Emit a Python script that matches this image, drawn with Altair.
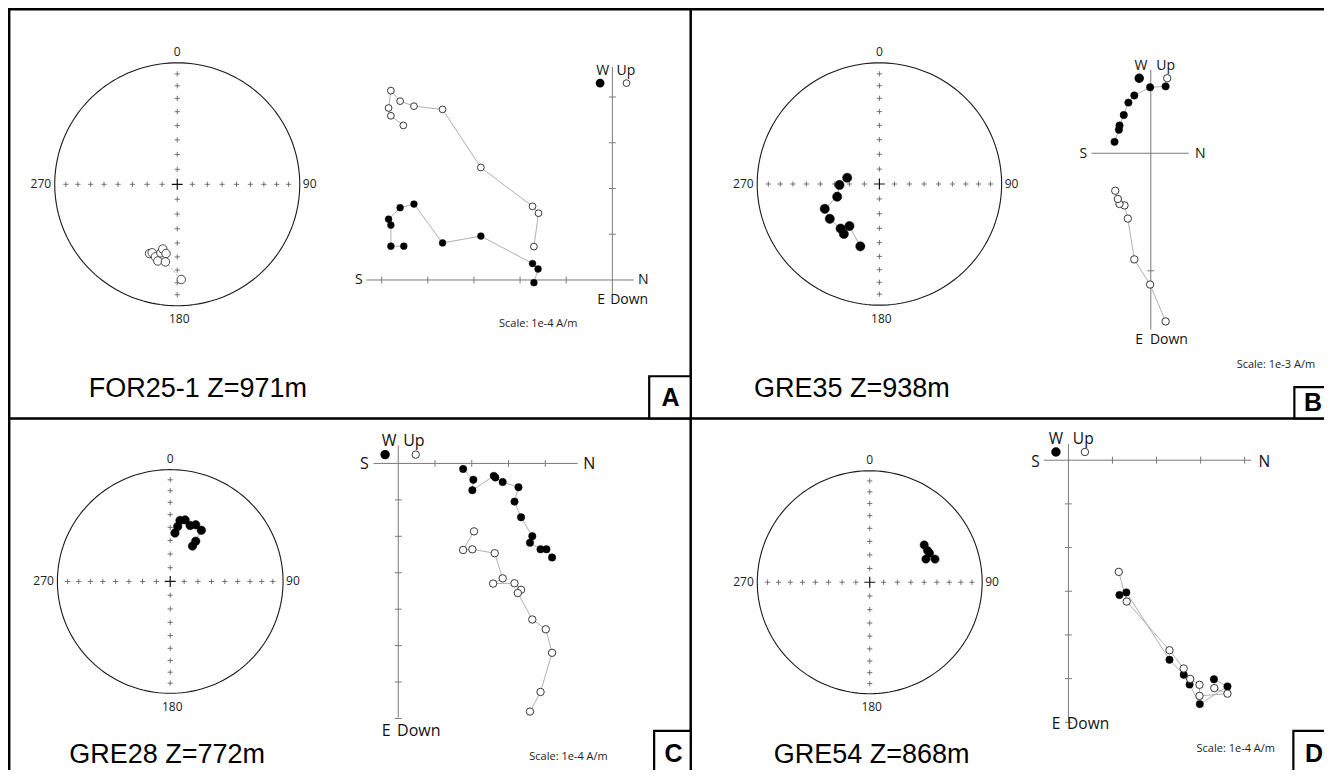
import altair as alt
import pandas as pd

# ---------------- values ----------------
SAMPLE_LABELS = ["FOR25-1 Z=971m", "GRE35 Z=938m", "GRE28 Z=772m", "GRE54 Z=868m"]
PANEL_LETTERS = ["A", "B", "C", "D"]
SCALE_LABELS = ["Scale: 1e-4 A/m", "Scale: 1e-3 A/m", "Scale: 1e-4 A/m", "Scale: 1e-4 A/m"]
DIR_LABELS = ["0", "90", "180", "270"]
AXIS_LABELS = ["S", "N", "W", "Up", "E", "Down"]

# stereonet directions: declination / inclination (deg); negative inc = upper hemisphere (open)
ST_A_DEC = [201.6, 199.9, 196.6, 194.1, 193.3, 192.5, 189.1, 188.6, 177.6]
ST_A_INC = [-38.6, -39.8, -37.7, -35.2, -41.6, -44.6, -41.8, -35.6, -22.6]
ST_B_DEC = [281.1, 268.6, 253.1, 245.4, 234.7, 220.8, 215.2, 215.2, 196.9]
ST_B_INC = [68.1, 63.3, 60.4, 49.3, 48.8, 49.8, 48.2, 55.0, 45.3]
ST_C_DEC = [5.5, 7.7, 9.0, 13.5, 19.4, 24.0, 31.1, 32.1, 31.9]
ST_C_INC = [54.2, 49.0, 44.0, 42.8, 45.9, 43.8, 45.6, 55.0, 59.4]
ST_D_DEC = [55.4, 61.1, 63.9, 67.4, 70.3]
ST_D_INC = [40.8, 40.9, 40.5, 45.0, 38.3]

# Zijderveld diagrams, in units of the axis tick spacing
# horizontal projection (filled): N vs W ; vertical projection (open): N vs Up
ZA_H_N = [-4.52, -4.80, -4.80, -4.85, -4.60, -4.30, -3.68, -2.85, -1.73, -1.61, -1.70]
ZA_H_W = [0.74, 0.74, 1.20, 1.33, 1.58, 1.66, 0.81, 0.96, 0.36, 0.24, -0.06]
ZA_V_N = [-4.53, -4.80, -4.85, -4.80, -4.60, -4.30, -3.68, -2.85, -1.73, -1.60, -1.70]
ZA_V_U = [3.38, 3.59, 3.76, 4.14, 3.91, 3.80, 3.73, 2.46, 1.61, 1.46, 0.73]

ZB_H_N = [0.125, -0.006, -0.139, -0.189, -0.228, -0.264, -0.269, -0.306]
ZB_H_W = [0.569, 0.561, 0.492, 0.431, 0.325, 0.236, 0.200, 0.097]
ZB_V_N = [0.125, -0.006, -0.139, -0.194, -0.222, -0.264, -0.278, -0.300]
ZB_V_U = [-1.431, -1.117, -0.903, -0.556, -0.444, -0.431, -0.389, -0.319]

ZC_H_N = [1.765, 2.043, 2.016, 2.599, 2.643, 2.841, 3.271, 3.163, 3.342, 3.647, 3.584, 3.871, 4.032, 4.185]
ZC_H_W = [-0.152, -0.448, -0.735, -0.341, -0.385, -0.511, -0.654, -1.048, -1.478, -1.998, -2.177, -2.357, -2.357, -2.581]
ZC_V_N = [2.061, 1.765, 2.016, 2.625, 2.841, 2.581, 3.163, 3.342, 3.253, 3.647, 4.014, 4.185, 3.871, 3.584]
ZC_V_U = [-1.864, -2.375, -2.357, -2.464, -3.154, -3.297, -3.289, -3.468, -3.557, -4.283, -4.552, -5.197, -6.272, -6.810]

ZD_H_N = [1.158, 1.315, 2.294, 2.616, 2.750, 2.982, 3.610, 3.303]
ZD_H_W = [-3.087, -3.027, -4.567, -4.910, -5.135, -5.583, -5.179, -5.015]
ZD_V_N = [1.143, 1.323, 2.294, 2.616, 2.765, 2.975, 2.975, 3.610, 3.311]
ZD_V_U = [-2.556, -3.236, -4.350, -4.768, -5.007, -5.142, -5.396, -5.344, -5.217]

STEREO = {"A": (ST_A_DEC, ST_A_INC), "B": (ST_B_DEC, ST_B_INC),
          "C": (ST_C_DEC, ST_C_INC), "D": (ST_D_DEC, ST_D_INC)}
ZIJ = {"A": (ZA_H_N, ZA_H_W, ZA_V_N, ZA_V_U), "B": (ZB_H_N, ZB_H_W, ZB_V_N, ZB_V_U),
       "C": (ZC_H_N, ZC_H_W, ZC_V_N, ZC_V_U), "D": (ZD_H_N, ZD_H_W, ZD_V_N, ZD_V_U)}

# ---------------- layout (figure pixel units) ----------------
LAYOUT = {
    "A": dict(cx=171.3, cy=180.0, R=124.0, ox=611.7, oy=277.7, u=46.7,
              hx=(-5.33, 0.46), vy=(-0.33, 4.66), ht=[-1, -2, -3, -4, -5], vt=[1, 2, 3, 4],
              lab=[(355, 278), (643, 278), (602, 64), (625.5, 64), (600.3, 298), (628.7, 298)],
              leg=[(599.3, 76.7), (626.0, 76.7)], scale=(536.7, 322.7), name=(81.7, 397),
              box=(649, 376, 691, 419), letter=(670.5, 398.5), zs=46, ss=72, fs=14),
    "B": dict(cx=882.0, cy=179.7, R=123.7, ox=1156.7, oy=148.3, u=120.0,
              hx=(-0.5, 0.32), vy=(-1.5, 0.71), ht=[], vt=[-1],
              lab=[(1088.3, 149.3), (1206.7, 149.3), (1146.7, 59.3), (1171.7, 59.3), (1145, 339.3), (1175, 339.3)],
              leg=[(1145.0, 71.7), (1173.3, 71.7)], scale=(1283.3, 364.5), name=(755, 397),
              box=(1302, 387, 1350, 419), letter=(1321, 403), zs=55, ss=85, fs=14),
    "C": dict(cx=164.2, cy=585.5, R=114.2, ox=395.0, oy=465.0, u=37.2,
              hx=(-0.67, 4.88), vy=(-6.97, 0.49), ht=[1, 2, 3, 4], vt=[-1, -2, -3, -4, -5, -6, -7],
              lab=[(360.7, 466), (588.3, 466), (385.7, 442.3), (410.8, 442.3), (382.8, 738.3), (415.8, 738.3)],
              leg=[(381.7, 456.0), (412.7, 456.0)], scale=(567.3, 765), name=(62, 771),
              box=(654, 738, 691, 790), letter=(673.5, 762), zs=55, ss=72, fs=16),
    "D": dict(cx=872.2, cy=586.3, R=113.8, ox=1073.3, oy=461.7, u=44.6,
              hx=(-0.56, 4.15), vy=(-5.98, 0.37), ht=[1, 2, 3, 4], vt=[-1, -2, -3, -4, -5, -6],
              lab=[(1040, 464), (1271.7, 464), (1060.7, 440), (1088.3, 440), (1060.7, 730.7), (1093.3, 730.7)],
              leg=[(1060.7, 453.3), (1090.0, 453.3)], scale=(1242.7, 756.7), name=(775, 771),
              box=(1301, 738, 1350, 790), letter=(1322, 762), zs=55, ss=68, fs=15.5),
}
PANELS = ["A", "B", "C", "D"]
EQ_TICKS = [10, 20, 30, 40, 50, 60, 70, 80]

XS = alt.Scale(domain=[0, 1332], nice=False, zero=False)
YS = alt.Scale(domain=[778, 0], nice=False, zero=False)


def enc(**kw):
    d = dict(x=alt.X("fx:Q", scale=XS, axis=None), y=alt.Y("fy:Q", scale=YS, axis=None))
    d.update(kw)
    return d


def stereo_calc(ch, L):
    r = "sqrt(2)*sin((90-abs(datum.inc))*PI/360)"
    return ch.transform_calculate(
        fx=f"{L['cx']} + {L['R']}*{r}*sin(datum.dec*PI/180)",
        fy=f"{L['cy']} - {L['R']}*{r}*cos(datum.dec*PI/180)",
    )


def zij_calc(ch, L):
    return ch.transform_calculate(
        fx=f"{L['ox']} + datum.N*{L['u']}",
        fy=f"{L['oy']} - datum.V*{L['u']}",
    )


layers = []
CROSS = "M-1,0L1,0M0,-1L0,1"

# --------- frame ---------
frame = pd.DataFrame([
    dict(fx=0, fy=1.2, fx2=1332, fy2=1.2),
    dict(fx=1.2, fy=0, fx2=1.2, fy2=778),
    dict(fx=0, fy=419, fx2=1332, fy2=419),
    dict(fx=691, fy=0, fx2=691, fy2=778),
])
layers.append(alt.Chart(frame).mark_rule(color="black", strokeWidth=2.5)
              .encode(**enc(x2=alt.X2("fx2"), y2=alt.Y2("fy2"))))

for k, p in enumerate(PANELS):
    L = LAYOUT[p]
    # ---- stereonet circle ----
    circ = pd.DataFrame({"dec": list(range(0, 361, 2))})
    circ["inc"] = 0
    layers.append(stereo_calc(alt.Chart(circ), L).mark_line(color="#1a1a1a", strokeWidth=1.1)
                  .encode(**enc(order=alt.Order("dec:Q"))))
    # graticule crosses
    rows = [dict(dec=d, inc=i) for d in (0, 90, 180, 270) for i in EQ_TICKS]
    layers.append(stereo_calc(alt.Chart(pd.DataFrame(rows)), L)
                  .mark_point(shape=CROSS, filled=False, stroke="#5f5f5f", strokeWidth=0.85, size=28, opacity=1)
                  .encode(**enc()))
    layers.append(stereo_calc(alt.Chart(pd.DataFrame([dict(dec=0, inc=90)])), L)
                  .mark_point(shape=CROSS, filled=False, stroke="#111", strokeWidth=1.2, size=120, opacity=1)
                  .encode(**enc()))
    # direction labels
    cx, cy, R = L["cx"], L["cy"], L["R"]
    dl = pd.DataFrame({"text": DIR_LABELS,
                       "fx": [cx, cx + R + 10, cx + 2, cx - R - 14],
                       "fy": [cy - R - 11, cy, cy + R + 14, cy]})
    layers.append(alt.Chart(dl).mark_text(font="Open Sans", fontSize=12, color="#222",
                                          align="center", baseline="middle")
                  .encode(**enc(text="text:N")))
    # stereonet data
    dec, inc = STEREO[p]
    sd = pd.DataFrame({"dec": dec, "inc": inc, "i": range(len(dec))})
    upper = p == "A"
    line = stereo_calc(alt.Chart(sd), L).mark_line(
        color="#8a8a8a", strokeWidth=0.8, strokeDash=[2, 2] if upper else [1, 0])
    layers.append(line.encode(**enc(order=alt.Order("i:Q"))))
    if upper:
        layers.append(stereo_calc(alt.Chart(sd), L)
                      .mark_point(shape="circle", filled=True, fill="white", stroke="#333",
                                  strokeWidth=0.9, size=L["ss"], opacity=1)
                      .encode(**enc()))
    else:
        layers.append(stereo_calc(alt.Chart(sd), L)
                      .mark_point(shape="circle", filled=True, fill="black", stroke="black",
                                  strokeWidth=0.5, size=L["ss"], opacity=1)
                      .encode(**enc()))

    # ---- Zijderveld axes ----
    ox, oy, u = L["ox"], L["oy"], L["u"]
    ax = [dict(fx=ox + L["hx"][0] * u, fy=oy, fx2=ox + L["hx"][1] * u, fy2=oy),
          dict(fx=ox, fy=oy - L["vy"][0] * u, fx2=ox, fy2=oy - L["vy"][1] * u)]
    for t in L["ht"]:
        ax.append(dict(fx=ox + t * u, fy=oy - 3.5, fx2=ox + t * u, fy2=oy + 3.5))
    for t in L["vt"]:
        ax.append(dict(fx=ox - 3.5, fy=oy - t * u, fx2=ox + 3.5, fy2=oy - t * u))
    layers.append(alt.Chart(pd.DataFrame(ax)).mark_rule(color="#7a7a7a", strokeWidth=1.0)
                  .encode(**enc(x2=alt.X2("fx2"), y2=alt.Y2("fy2"))))
    # axis labels
    al = pd.DataFrame({"text": AXIS_LABELS,
                       "fx": [q[0] for q in L["lab"]], "fy": [q[1] for q in L["lab"]]})
    layers.append(alt.Chart(al).mark_text(font="Open Sans", fontSize=L["fs"], color="#111",
                                          align="center", baseline="middle")
                  .encode(**enc(text="text:N")))
    # ---- Zijderveld data ----
    hN, hW, vN, vU = ZIJ[p]
    hd = pd.DataFrame({"N": hN, "V": hW, "i": range(len(hN))})
    vd = pd.DataFrame({"N": vN, "V": vU, "i": range(len(vN))})
    for d in (hd, vd):
        layers.append(zij_calc(alt.Chart(d), L).mark_line(color="#9a9a9a", strokeWidth=0.8)
                      .encode(**enc(order=alt.Order("i:Q"))))
    layers.append(zij_calc(alt.Chart(hd), L)
                  .mark_point(shape="circle", filled=True, fill="black", stroke="black",
                              strokeWidth=0.5, size=L["zs"], opacity=1)
                  .encode(**enc()))
    layers.append(zij_calc(alt.Chart(vd), L)
                  .mark_point(shape="circle", filled=True, fill="white", stroke="#222",
                              strokeWidth=0.9, size=L["zs"], opacity=1)
                  .encode(**enc()))
    # legend symbols (filled = W / horizontal, open = Up / vertical)
    lg = pd.DataFrame({"fx": [L["leg"][0][0]], "fy": [L["leg"][0][1]]})
    layers.append(alt.Chart(lg).mark_point(shape="circle", filled=True, fill="black", stroke="black",
                                           size=L["zs"], opacity=1).encode(**enc()))
    lg2 = pd.DataFrame({"fx": [L["leg"][1][0]], "fy": [L["leg"][1][1]]})
    layers.append(alt.Chart(lg2).mark_point(shape="circle", filled=True, fill="white", stroke="#222",
                                            strokeWidth=0.9, size=L["zs"], opacity=1).encode(**enc()))
    # scale label
    sl = pd.DataFrame({"text": [SCALE_LABELS[k]], "fx": [L["scale"][0]], "fy": [L["scale"][1]]})
    layers.append(alt.Chart(sl).mark_text(font="Open Sans", fontSize=11, color="#222",
                                          align="center", baseline="middle")
                  .encode(**enc(text="text:N")))
    # sample name
    nm = pd.DataFrame({"text": [SAMPLE_LABELS[k]], "fx": [L["name"][0]], "fy": [L["name"][1]]})
    layers.append(alt.Chart(nm).mark_text(font="Liberation Sans", fontSize=27, color="black",
                                          align="left", baseline="alphabetic")
                  .encode(**enc(text="text:N")))
    # panel letter box
    b = L["box"]
    bx = pd.DataFrame([dict(fx=b[0], fy=b[1], fx2=b[2], fy2=b[3])])
    layers.append(alt.Chart(bx).mark_rect(fill="white", stroke="black", strokeWidth=2.2)
                  .encode(**enc(x2=alt.X2("fx2"), y2=alt.Y2("fy2"))))
    lt = pd.DataFrame({"text": [PANEL_LETTERS[k]], "fx": [L["letter"][0]], "fy": [L["letter"][1]]})
    layers.append(alt.Chart(lt).mark_text(font="Liberation Sans", fontSize=25, fontWeight="bold",
                                          color="black", align="center", baseline="middle")
                  .encode(**enc(text="text:N")))

chart = (alt.layer(*layers)
         .properties(width=1316, height=762, padding=0,
                     autosize=alt.AutoSizeParams(type="none"), background="white")
         .configure_view(strokeWidth=0))

chart.save("out.html", embed_options={"renderer": "svg", "actions": False})
